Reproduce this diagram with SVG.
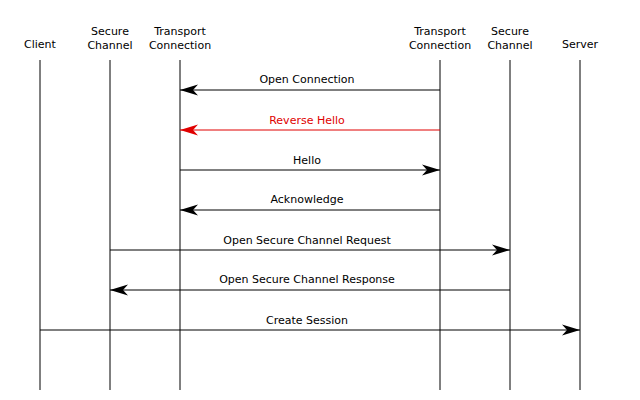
<svg xmlns="http://www.w3.org/2000/svg" width="640" height="400" viewBox="0 0 640 400">
<style>
text{font-family:"DejaVu Sans",sans-serif;font-size:11px;fill:#000;text-anchor:middle}
.life{stroke:#000;stroke-width:1}
.msg{stroke:#000;stroke-width:1;fill:none}
.red{stroke:#e00000}
text.redt{fill:#e00000}
</style>
<defs>
<marker id="ah" markerUnits="userSpaceOnUse" markerWidth="20" markerHeight="12" refX="18" refY="6" orient="auto">
<path d="M18,6 L0,0.5 L5,6 L0,11.5 Z" fill="#000"/>
</marker>
<marker id="ahr" markerUnits="userSpaceOnUse" markerWidth="20" markerHeight="12" refX="18" refY="6" orient="auto">
<path d="M18,6 L0,0.5 L5,6 L0,11.5 Z" fill="#e00000"/>
</marker>
</defs>
<g id="client"><text x="40" y="48">Client</text><line class="life" x1="40" y1="60" x2="40" y2="390"/></g>
<g id="secure-channel-client"><text x="110" y="35">Secure</text><text x="110" y="49">Channel</text><line class="life" x1="110" y1="60" x2="110" y2="390"/></g>
<g id="transport-client"><text x="180" y="35">Transport</text><text x="180" y="49">Connection</text><line class="life" x1="180" y1="60" x2="180" y2="390"/></g>
<g id="transport-server"><text x="440" y="35">Transport</text><text x="440" y="49">Connection</text><line class="life" x1="440" y1="60" x2="440" y2="390"/></g>
<g id="secure-channel-server"><text x="510" y="35">Secure</text><text x="510" y="49">Channel</text><line class="life" x1="510" y1="60" x2="510" y2="390"/></g>
<g id="server"><text x="580" y="48">Server</text><line class="life" x1="580" y1="60" x2="580" y2="390"/></g>
<g id="connectors">
<line class="msg" x1="440" y1="90" x2="180" y2="90" marker-end="url(#ah)"/><text x="307" y="83">Open Connection</text>
<line class="msg red" x1="440" y1="130" x2="180" y2="130" marker-end="url(#ahr)"/><text class="redt" x="307" y="124">Reverse Hello</text>
<line class="msg" x1="180" y1="170" x2="440" y2="170" marker-end="url(#ah)"/><text x="307" y="164">Hello</text>
<line class="msg" x1="440" y1="210" x2="180" y2="210" marker-end="url(#ah)"/><text x="307" y="203">Acknowledge</text>
<line class="msg" x1="110" y1="250" x2="510" y2="250" marker-end="url(#ah)"/><text x="307" y="244">Open Secure Channel Request</text>
<line class="msg" x1="510" y1="290" x2="110" y2="290" marker-end="url(#ah)"/><text x="307" y="283">Open Secure Channel Response</text>
<line class="msg" x1="40" y1="330" x2="580" y2="330" marker-end="url(#ah)"/><text x="307" y="324">Create Session</text>
</g>
</svg>
